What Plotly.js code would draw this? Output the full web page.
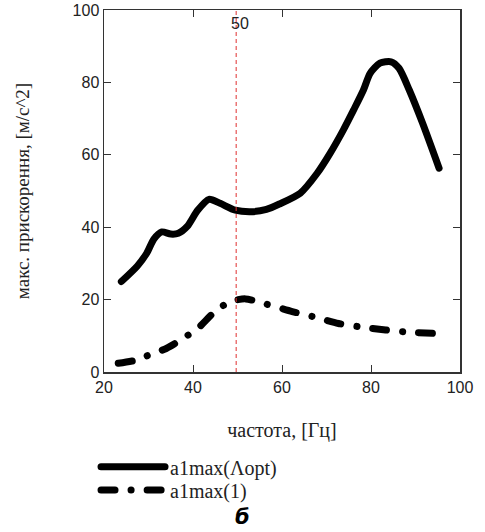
<!DOCTYPE html>
<html>
<head>
<meta charset="utf-8">
<script src="https://cdn.plot.ly/plotly-3.0.1.min.js"></script>
<style>
html,body{margin:0;padding:0;background:#fff;}
#chart{width:485px;height:532px;}
.scatterlayer path.js-line, .legendlines path { stroke-linecap: round; stroke-linejoin: round; }
</style>
</head>
<body>
<div id="chart"></div>
<script>
// Solid curve: a1max(Λopt)
var freqOpt = [23.9, 27.5, 29.6, 31.2, 33.0, 35.0, 36.7, 38.7, 41.0, 43.6, 46.1, 49.5, 53.5, 56.5, 59.4, 64.1, 67.9, 70.8, 73.8, 76.1, 78.3, 79.8, 82.0, 84.5, 86.3, 88.6, 91.6, 95.3];
var accOpt  = [25.0, 29.3, 32.8, 36.7, 38.7, 38.1, 38.3, 40.2, 44.6, 47.7, 46.6, 44.7, 44.3, 44.9, 46.4, 49.4, 54.9, 60.4, 66.9, 72.4, 77.9, 82.5, 85.3, 85.7, 83.9, 77.9, 68.7, 56.3];
// Dash-dot curve: a1max(1)
var freqOne = [23.2, 27.3, 30.7, 34.0, 37.8, 41.3, 44.5, 48.2, 51.8, 55.7, 62.3, 66.9, 72.7, 77.4, 83.3, 88.6, 93.8];
var accOne  = [2.4, 3.3, 5.0, 6.5, 9.3, 12.3, 16.2, 19.4, 20.2, 19.0, 16.7, 15.3, 13.4, 12.5, 11.6, 11.0, 10.7];
// Marker line
var markerFreq = 49.7;
var markerLabel = "50";
var xTicks = [20, 40, 60, 80, 100];
var yTicks = [0, 20, 40, 60, 80, 100];
var seriesNames = ["a1max(\u039Bopt)", "a1max(1)"];

var serif = "Liberation Serif, Times New Roman, serif";
var sans = "Liberation Sans, Arial, sans-serif";

var traces = [
  {x: freqOpt, y: accOpt, mode: "lines", name: seriesNames[0], legend: "legend",
   line: {color: "#000", width: 7, shape: "spline", smoothing: 0.7}},
  {x: freqOne, y: accOne, mode: "lines", name: seriesNames[1], legend: "legend2",
   line: {color: "#000", width: 7, shape: "spline", smoothing: 0.7, dash: "14px,16px,0.1px,16px"}}
];

var legendBase = {
  x: -0.0224, xanchor: "left", yanchor: "middle",
  itemwidth: 64, bgcolor: "rgba(0,0,0,0)",
  font: {family: serif, size: 20, color: "#222"}
};

var layout = {
  width: 485, height: 532,
  margin: {l: 104, r: 25, t: 10, b: 160},
  paper_bgcolor: "#fff", plot_bgcolor: "#fff",
  showlegend: true,
  xaxis: {
    range: [20, 100], tickvals: xTicks, ticks: "inside", ticklen: 7, tickcolor: "#333",
    showline: true, linecolor: "#333", linewidth: 1.5, mirror: "ticks",
    showgrid: false, zeroline: false,
    tickfont: {family: sans, size: 16, color: "#222"},
    title: {text: "частота, [Гц]", standoff: 28, font: {family: serif, size: 20, color: "#222"}}
  },
  yaxis: {
    range: [0, 100], tickvals: yTicks, ticks: "inside", ticklen: 7, tickcolor: "#333",
    showline: true, linecolor: "#333", linewidth: 1.5, mirror: "ticks",
    showgrid: false, zeroline: false,
    tickfont: {family: sans, size: 16, color: "#222"},
    title: {text: "макс. прискорення, [м/с^2]", standoff: 38, font: {family: serif, size: 19, color: "#222"}}
  },
  shapes: [
    {type: "line", xref: "x", yref: "paper", x0: markerFreq, x1: markerFreq, y0: 0, y1: 1,
     line: {color: "#e03030", width: 1, dash: "4px,3px"}}
  ],
  annotations: [
    {x: markerFreq, y: 1, xref: "x", yref: "paper", yanchor: "top", xanchor: "center", xshift: 4, yshift: -3,
     text: markerLabel, showarrow: false,
     font: {family: sans, size: 16, color: "#222"}},
    {x: 0.389, y: -0.4006, xref: "paper", yref: "paper", xanchor: "center", yanchor: "middle",
     text: "<b><i>б</i></b>", showarrow: false,
     font: {family: "DejaVu Sans, sans-serif", size: 21, color: "#000"}}
  ],
  legend: Object.assign({}, legendBase, {y: -0.262}),
  legend2: Object.assign({}, legendBase, {y: -0.326})
};

Plotly.newPlot("chart", traces, layout, {displayModeBar: false, staticPlot: true});
</script>
</body>
</html>
